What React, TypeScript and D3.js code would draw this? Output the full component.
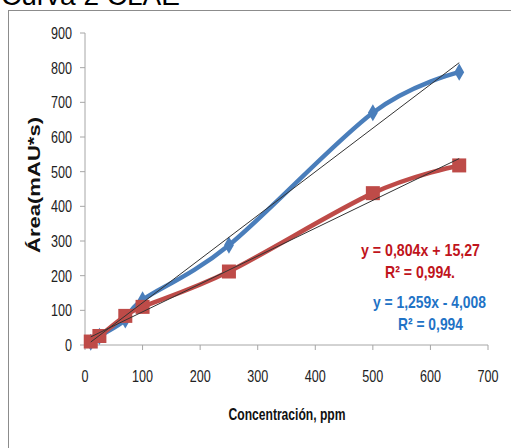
import React from "react";
import * as d3 from "d3";

const concentrations = [10, 25, 70, 100, 250, 500, 650];
const blueArea = [8, 25, 72, 130, 288, 670, 787];
const redArea = [10, 26, 84, 110, 212, 438, 518];
const xTicks = [0, 100, 200, 300, 400, 500, 600, 700];
const yTicks = [0, 100, 200, 300, 400, 500, 600, 700, 800, 900];
const blueFit = { slope: 1.259, intercept: -4.008 };
const redFit = { slope: 0.804, intercept: 15.27 };

const W = 511;
const H = 448;
const BLUE = "#4a7ebb";
const RED = "#be4b48";
const AXIS = "#a6a6a6";
const FONT = "'Liberation Sans', Arial, sans-serif";

export default function App() {
  const x = d3.scaleLinear().domain([0, 700]).range([85, 488]);
  const y = d3.scaleLinear().domain([0, 900]).range([345, 33]);

  const line = d3
    .line<[number, number]>()
    .x((d) => x(d[0]))
    .y((d) => y(d[1]))
    .curve(d3.curveCardinal.tension(0));

  const bluePts = concentrations.map((c, i) => [c, blueArea[i]] as [number, number]);
  const redPts = concentrations.map((c, i) => [c, redArea[i]] as [number, number]);

  const x0 = concentrations[0];
  const x1 = concentrations[concentrations.length - 1];
  const fitLine = (f: { slope: number; intercept: number }) => (
    <line
      x1={x(x0)}
      y1={y(f.slope * x0 + f.intercept)}
      x2={x(x1)}
      y2={y(f.slope * x1 + f.intercept)}
      stroke="#333"
      strokeWidth={1}
    />
  );

  const diamond = d3.symbol().type(d3.symbolDiamond).size(85)();

  return (
    <svg
      width={W}
      height={H}
      style={{ position: "absolute", left: 0, top: 0, background: "#fff" }}
    >
      <text x={1} y={5} fontFamily={FONT} fontSize={28} fill="#000">
        Curva 2 CLAE
      </text>
      <rect x={8.5} y={10.5} width={W} height={H} fill="none" stroke="#8c8c8c" strokeWidth={1} />

      {/* axes */}
      <line x1={x(0)} y1={y(0)} x2={x(0)} y2={y(900)} stroke={AXIS} />
      <line x1={x(0)} y1={y(0)} x2={x(700)} y2={y(0)} stroke={AXIS} />
      {yTicks.map((t) => (
        <g key={"y" + t}>
          <line x1={x(0) - 5} x2={x(0)} y1={y(t)} y2={y(t)} stroke={AXIS} />
          <text
            x={72}
            y={y(t) + 6}
            textAnchor="end"
            fontFamily={FONT}
            fontSize={16}
            textLength={String(t).length * 7}
            lengthAdjust="spacingAndGlyphs"
            fill="#222"
          >
            {t}
          </text>
        </g>
      ))}
      {xTicks.map((t) => (
        <g key={"x" + t}>
          <line x1={x(t)} x2={x(t)} y1={y(0)} y2={y(0) + 5} stroke={AXIS} />
          <text
            x={x(t)}
            y={382}
            textAnchor="middle"
            fontFamily={FONT}
            fontSize={16}
            textLength={String(t).length * 7}
            lengthAdjust="spacingAndGlyphs"
            fill="#222"
          >
            {t}
          </text>
        </g>
      ))}

      <text
        transform="translate(40,185) rotate(-90)"
        textAnchor="middle"
        fontFamily={FONT}
        fontWeight="bold"
        fontSize={16}
        textLength={136}
        lengthAdjust="spacingAndGlyphs"
        fill="#111"
      >
        Área(mAU*s)
      </text>
      <text
        x={287}
        y={420}
        textAnchor="middle"
        fontFamily={FONT}
        fontWeight="bold"
        fontSize={16}
        textLength={117}
        lengthAdjust="spacingAndGlyphs"
        fill="#111"
      >
        Concentración, ppm
      </text>

      {/* series */}
      <path d={line(bluePts) || ""} fill="none" stroke={BLUE} strokeWidth={4.5} />
      {bluePts.map((p, i) => (
        <path key={"bd" + i} d={diamond || ""} transform={`translate(${x(p[0])},${y(p[1])})`} fill={BLUE} />
      ))}
      <path d={line(redPts) || ""} fill="none" stroke={RED} strokeWidth={4.5} />
      {redPts.map((p, i) => (
        <rect key={"rs" + i} x={x(p[0]) - 7} y={y(p[1]) - 7} width={14} height={14} fill={RED} />
      ))}

      {fitLine(blueFit)}
      {fitLine(redFit)}

      {/* trendline equations */}
      <g fontFamily={FONT} fontWeight="bold" fontSize={17} textAnchor="middle">
        <text x={420.5} y={256} fill="#c0141c" textLength={119} lengthAdjust="spacingAndGlyphs">
          y = 0,804x + 15,27
        </text>
        <text x={420} y={278} fill="#c0141c" textLength={70} lengthAdjust="spacingAndGlyphs">
          R² = 0,994.
        </text>
        <text x={429.5} y={308} fill="#1f73c6" textLength={113} lengthAdjust="spacingAndGlyphs">
          y = 1,259x - 4,008
        </text>
        <text x={430.5} y={330} fill="#1f73c6" textLength={65} lengthAdjust="spacingAndGlyphs">
          R² = 0,994
        </text>
      </g>
    </svg>
  );
}
